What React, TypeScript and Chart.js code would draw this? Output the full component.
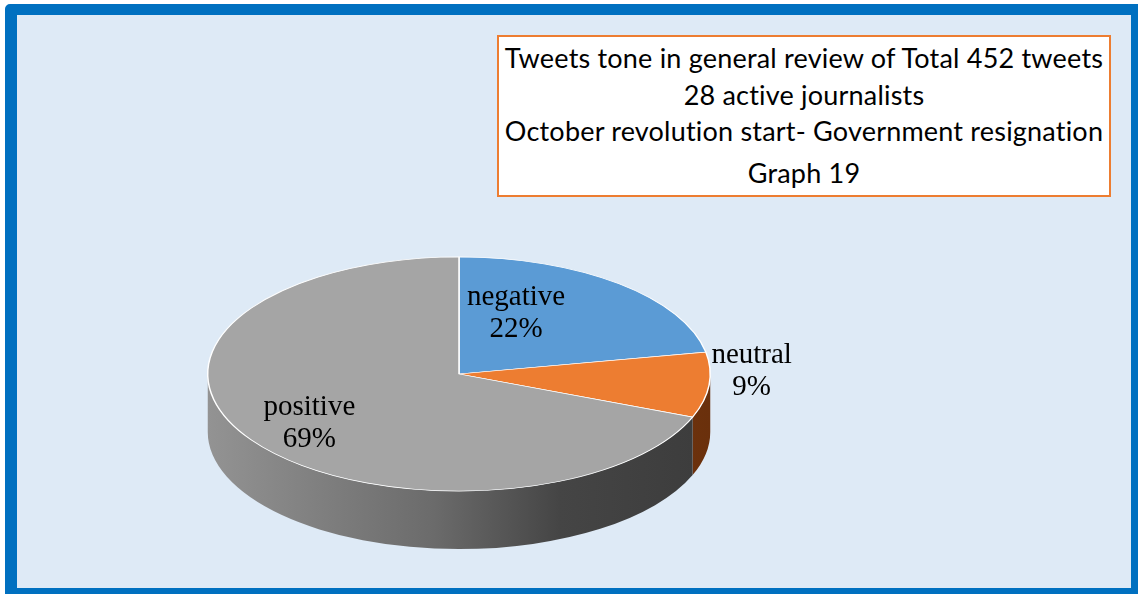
import React, { useEffect, useRef } from "react";
import { Chart, registerables } from "chart.js";

Chart.register(...registerables);

const categories = ["negative", "neutral", "positive"];
const values = [22, 9, 69];
const topColors = ["#5B9BD5", "#ED7D31", "#A5A5A5"];
const titleLines = [
  "Tweets tone in general review of Total 452 tweets",
  "28 active journalists",
  "October revolution start- Government resignation",
  "Graph 19",
];

const K = 117 / 251; // vertical squash of the pie's top face
const TARGET_CY = 374; // screen y of the pie's top-face centre
const DEPTH = 58; // thickness of the 3D side

const sideGradients: Array<Array<[number, string]>> = [
  [[0, "#2f5f8f"], [1, "#1f4570"]],
  [[0, "#9a4a15"], [1, "#6a300c"]],
  [[0, "#939393"], [0.45, "#6b6b6b"], [0.7, "#454545"], [1, "#3c3c3c"]],
];

// label placement: fraction of radius along slice mid-angle, plus nudge
const labelFactor = [0.45, 1.17, 0.72];
const labelNudge = [[-15, -20], [0, -16], [0, 2]];

const pie3d = {
  id: "pie3d",
  beforeDatasetsDraw(chart: any) {
    const meta = chart.getDatasetMeta(0);
    const ctx = chart.ctx as CanvasRenderingContext2D;
    const first = meta.data[0];
    const { x: cx, y: cy, outerRadius: r } = first.getProps(["x", "y", "outerRadius"], true);
    const rx = r;
    const ry = r * K;
    const ecx = cx;
    const ecy = TARGET_CY;
    meta.data.forEach((arc: any, i: number) => {
      const { startAngle, endAngle } = arc.getProps(["startAngle", "endAngle"], true);
      for (let k = -1; k <= 1; k++) {
        const lo = Math.max(startAngle, 2 * Math.PI * k);
        const hi = Math.min(endAngle, 2 * Math.PI * k + Math.PI);
        if (hi <= lo) continue;
        const g = ctx.createLinearGradient(ecx - rx, 0, ecx + rx, 0);
        sideGradients[i].forEach(([o, c]) => g.addColorStop(o, c));
        ctx.save();
        ctx.beginPath();
        ctx.ellipse(ecx, ecy, rx, ry, 0, lo, hi, false);
        ctx.ellipse(ecx, ecy + DEPTH, rx, ry, 0, hi, lo, true);
        ctx.closePath();
        ctx.fillStyle = g;
        ctx.fill();
        ctx.restore();
      }
    });
    ctx.save();
    ctx.translate(ecx, ecy);
    ctx.scale(1, K);
    ctx.translate(-cx, -cy);
  },
  afterDatasetsDraw(chart: any) {
    const ctx = chart.ctx as CanvasRenderingContext2D;
    ctx.restore();
    const meta = chart.getDatasetMeta(0);
    const total = values.reduce((a, b) => a + b, 0);
    ctx.save();
    ctx.font = '29px "Liberation Serif", "Times New Roman", serif';
    ctx.fillStyle = "#000000";
    ctx.textAlign = "center";
    ctx.textBaseline = "middle";
    meta.data.forEach((arc: any, i: number) => {
      const { startAngle, endAngle, outerRadius } = arc.getProps(
        ["startAngle", "endAngle", "outerRadius"],
        true
      );
      const mid = (startAngle + endAngle) / 2;
      const f = labelFactor[i];
      const x = arc.x + outerRadius * f * Math.cos(mid) + labelNudge[i][0];
      const y = TARGET_CY + outerRadius * K * f * Math.sin(mid) + labelNudge[i][1];
      const pct = Math.round((values[i] / total) * 100) + "%";
      ctx.fillText(categories[i], x, y - 16);
      ctx.fillText(pct, x, y + 16);
    });
    ctx.restore();
  },
};

export default function App() {
  const canvasRef = useRef<HTMLCanvasElement | null>(null);

  useEffect(() => {
    if (!canvasRef.current) return;
    const chart = new Chart(canvasRef.current, {
      type: "pie",
      data: {
        labels: categories,
        datasets: [
          {
            data: values,
            backgroundColor: topColors,
            borderColor: "#ffffff",
            borderWidth: 1.5,
          },
        ],
      },
      options: {
        responsive: false,
        animation: false,
        devicePixelRatio: 1,
        events: [],
        layout: { padding: { left: 207, right: 427, top: 40, bottom: 50 } },
        plugins: {
          legend: { display: false },
          tooltip: { enabled: false },
          title: { display: false },
        },
      },
      plugins: [pie3d],
    });
    return () => chart.destroy();
  }, []);

  return (
    <div
      style={{
        position: "fixed",
        left: 0,
        top: 0,
        width: 1138,
        height: 594,
        background: "#ffffff",
        overflow: "hidden",
      }}
    >
      <div
        style={{
          position: "absolute",
          left: 5,
          top: 4,
          width: 1133,
          height: 590,
          boxSizing: "border-box",
          borderStyle: "solid",
          borderColor: "#0070C0",
          borderWidth: "11px 7px 6px 12px",
          borderTopLeftRadius: 5,
          background: "#DEEAF6",
        }}
      />
      <canvas
        ref={canvasRef}
        width={1138}
        height={594}
        style={{ position: "absolute", left: 0, top: 0 }}
      />
      <div
        style={{
          position: "absolute",
          left: 497,
          top: 35,
          width: 614,
          height: 162,
          boxSizing: "border-box",
          border: "2px solid #ED7D31",
          background: "#ffffff",
          fontFamily: 'Lato, "Open Sans", sans-serif',
          fontSize: 27,
          letterSpacing: 0.2,
          color: "#000000",
          textAlign: "center",
        }}
      >
        {titleLines.map((t, i) => (
          <div
            key={i}
            style={{
              position: "absolute",
              left: 0,
              right: 0,
              top: [6, 43, 79, 121][i],
              lineHeight: "30px",
              whiteSpace: "nowrap",
            }}
          >
            {t}
          </div>
        ))}
      </div>
    </div>
  );
}
